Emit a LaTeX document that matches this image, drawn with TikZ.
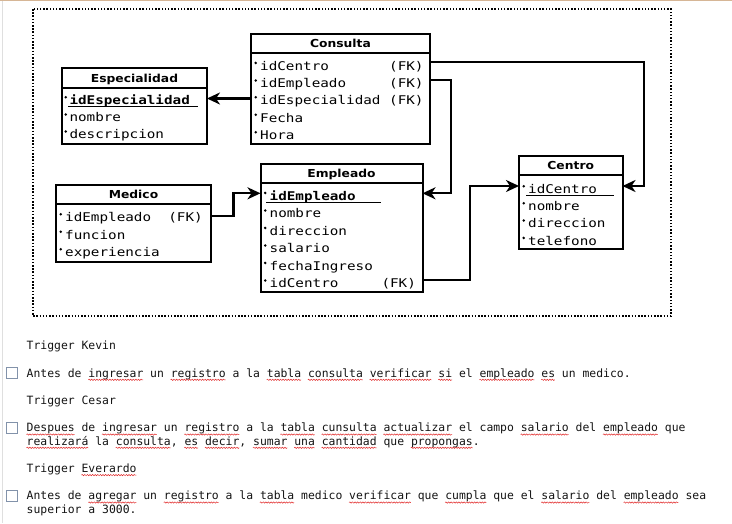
\documentclass[tikz,border=0pt]{standalone}
\usepackage{fontspec}
\usetikzlibrary{arrows.meta,decorations.pathmorphing}
\newfontfamily\rowf[FakeStretch=1.19]{DejaVu Sans Mono}
\newfontfamily\hdrf[FakeStretch=1.12]{DejaVu Sans}
\newfontfamily\bodyf{DejaVu Sans Mono}
\definecolor{tanbar}{RGB}{214,182,150}
\definecolor{cbox}{RGB}{130,146,170}
\definecolor{txt}{RGB}{20,20,20}
\definecolor{spell}{RGB}{225,40,40}
\def\cw{6.863}
\def\tx{26.5}
\newcommand\squl[3]{\draw[squig] ({\tx+#1*\cw},#3) -- ({\tx+(#1+#2)*\cw},#3);}
\tikzset{
 tbl/.style={draw, line width=2pt, anchor=north west, inner sep=0pt, outer sep=0pt},
 hdr/.style={font=\hdrf\bfseries\fontsize{11}{13}\selectfont, inner sep=0pt, anchor=base},
 rowtxt/.style={font=\rowf\fontsize{12}{14}\selectfont, anchor=base west, inner sep=0pt},
 pktxt/.style={font=\rowf\bfseries\fontsize{12}{14}\selectfont, anchor=base west, inner sep=0pt},
 sepl/.style={line width=2pt},
 pkul/.style={line width=1.1pt},
 link/.style={line width=2.2pt, -{Stealth[length=13pt,width=12pt,inset=4pt]}},
 body/.style={font=\bodyf\fontsize{11.4}{13}\selectfont, anchor=base west, inner sep=0pt, text=txt},
 squig/.style={draw=spell, line width=0.5pt, decorate, decoration={snake, segment length=2.6pt, amplitude=0.65pt}},
 chk/.style={draw=cbox, line width=0.9pt, fill=white, minimum size=11pt, inner sep=0pt},
 dotframe/.style={line width=1.5pt, dash pattern=on 1.5pt off 1.7pt},
 bul/.style={radius=1.4pt},
}
\begin{document}
\begin{tikzpicture}[x=1pt,y=-1pt]
\useasboundingbox (0,0) rectangle (732,523);
\fill[white] (0,0) rectangle (732,523);
\fill[tanbar] (0,0) rectangle (732,1.3);
\draw[gray!25, line width=1pt] (2,1.3) -- (2,523);

% frame
\draw[dotframe] (33,9) rectangle (671,316);

% ---------- Consulta ----------
\node[tbl, minimum width=179pt, minimum height=109.5pt] (cons) at (251,34) {};
\draw[sepl] (cons.west |- 0,52.5) -- (cons.east |- 0,52.5);
\node[hdr] (consH) at (340.5,47.5) {Consulta};
\foreach \y in {70.2,87.8,104.5,122,139.5} \fill (255.7,\y-7.3) circle[bul];
\node[rowtxt] (consR1) at (260,70.2) {idCentro};
\node[rowtxt] (consR2) at (260,87.8) {idEmpleado};
\node[rowtxt] (consR3) at (260,104.5) {idEspecialidad};
\node[rowtxt] (consR4) at (260,122) {Fecha};
\node[rowtxt] (consR5) at (260,139.5) {Hora};
\node[rowtxt] (consF1) at (389,70.2) {(FK)};
\node[rowtxt] (consF2) at (389,87.8) {(FK)};
\node[rowtxt] (consF3) at (389,104.5) {(FK)};

% ---------- Especialidad ----------
\node[tbl, minimum width=145pt, minimum height=76.5pt] (esp) at (62,67.5) {};
\draw[sepl] (esp.west |- 0,88.3) -- (esp.east |- 0,88.3);
\node[hdr] (espH) at (134.5,82) {Especialidad};
\foreach \y in {104.5,121.8,138.8} \fill (65.8,\y-7.3) circle[bul];
\node[pktxt] (espR1) at (69.3,104.5) {idEspecialidad};
\draw[pkul] (68,106.8) -- (198,106.8);
\node[rowtxt] (espR2) at (69.3,121.8) {nombre};
\node[rowtxt] (espR3) at (69.3,138.8) {descripcion};

% ---------- Empleado ----------
\node[tbl, minimum width=162pt, minimum height=127.5pt] (emp) at (260.5,164) {};
\draw[sepl] (emp.west |- 0,183) -- (emp.east |- 0,183);
\node[hdr] (empH) at (341.5,177.6) {Empleado};
\foreach \y in {200.2,217.8,235.2,252.8,270.2,287.8} \fill (265.2,\y-7.3) circle[bul];
\node[pktxt] (empR1) at (269.5,200.2) {idEmpleado};
\draw[pkul] (266,202.8) -- (381,202.8);
\node[rowtxt] (empR2) at (269.5,217.8) {nombre};
\node[rowtxt] (empR3) at (269.5,235.2) {direccion};
\node[rowtxt] (empR4) at (269.5,252.8) {salario};
\node[rowtxt] (empR5) at (269.5,270.2) {fechaIngreso};
\node[rowtxt] (empR6) at (269.5,287.8) {idCentro};
\node[rowtxt] (empF6) at (381.3,287.8) {(FK)};

% ---------- Medico ----------
\node[tbl, minimum width=155pt, minimum height=77pt] (med) at (56,185) {};
\draw[sepl] (med.west |- 0,203.5) -- (med.east |- 0,203.5);
\node[hdr] (medH) at (133.5,198.3) {Medico};
\foreach \y in {221.5,239,256.5} \fill (60.7,\y-7.3) circle[bul];
\node[rowtxt] (medR1) at (65,221.5) {idEmpleado};
\node[rowtxt] (medF1) at (168.2,221.5) {(FK)};
\node[rowtxt] (medR2) at (65,239) {funcion};
\node[rowtxt] (medR3) at (65,256.5) {experiencia};

% ---------- Centro ----------
\node[tbl, minimum width=103.5pt, minimum height=93pt] (cen) at (519,156) {};
\draw[sepl] (cen.west |- 0,175) -- (cen.east |- 0,175);
\node[hdr] (cenH) at (570.75,169.6) {Centro};
\foreach \y in {193.5,210.5,227.8,245.2} \fill (523.7,\y-7.3) circle[bul];
\node[rowtxt] (cenR1) at (528,193.5) {idCentro};
\draw[pkul] (526,195.8) -- (614,195.8);
\node[rowtxt] (cenR2) at (528,210.5) {nombre};
\node[rowtxt] (cenR3) at (528,227.8) {direccion};
\node[rowtxt] (cenR4) at (528,245.2) {telefono};

% ---------- connectors ----------
\draw[link] (cons.west |- 0,98.5) -- (esp.east |- 0,98.5);
\draw[link] (cons.east |- 0,62.3) -| (644,186) -- (cen.east |- 0,186);
\draw[link] (cons.east |- 0,80) -| (451,193.3) -- (emp.east |- 0,193.3);
\draw[link] (med.east |- 0,215.7) -| (233.5,193.3) -- (emp.west |- 0,193.3);
\draw[link] (emp.east |- 0,280) -| (470,186) -- (cen.west |- 0,186);

% ---------- text below ----------
\node[body] (t1) at (\tx,349) {Trigger Kevin};
\node[chk] (c1) at (11.5,373) {};
\node[body] (l1) at (\tx,377) {Antes de ingresar un registro a la tabla consulta verificar si el empleado es un medico.};
\node[body] (t2) at (\tx,404) {Trigger Cesar};
\node[chk] (c2) at (11.5,427.7) {};
\node[body] (l2) at (\tx,431.7) {Despues de ingresar un registro a la tabla cunsulta actualizar el campo salario del empleado que};
\node[body] (l3) at (\tx,445) {realizará la consulta, es decir, sumar una cantidad que propongas.};
\node[body] (t3) at (\tx,472.3) {Trigger Everardo};
\node[chk] (c3) at (11.5,495.7) {};
\node[body] (l4) at (\tx,499.7) {Antes de agregar un registro a la tabla medico verificar que cumpla que el salario del empleado sea};
\node[body] (l5) at (\tx,513.3) {superior a 3000.};

% spelling underlines
\squl{9}{8}{379.8}\squl{21}{8}{379.8}\squl{35}{5}{379.8}\squl{41}{8}{379.8}
\squl{50}{9}{379.8}\squl{60}{2}{379.8}\squl{66}{8}{379.8}\squl{75}{2}{379.8}
\squl{0}{7}{434.5}\squl{11}{8}{434.5}\squl{23}{8}{434.5}\squl{37}{5}{434.5}
\squl{43}{8}{434.5}\squl{52}{10}{434.5}\squl{72}{7}{434.5}\squl{84}{8}{434.5}
\squl{0}{9}{447.8}\squl{13}{8}{447.8}\squl{23}{2}{447.8}\squl{26}{5}{447.8}
\squl{33}{5}{447.8}\squl{39}{3}{447.8}\squl{43}{8}{447.8}\squl{56}{9}{447.8}
\squl{8}{8}{475.1}
\squl{9}{7}{502.5}\squl{20}{8}{502.5}\squl{34}{5}{502.5}\squl{47}{9}{502.5}
\squl{61}{6}{502.5}\squl{75}{7}{502.5}\squl{87}{8}{502.5}
\end{tikzpicture}
\end{document}
